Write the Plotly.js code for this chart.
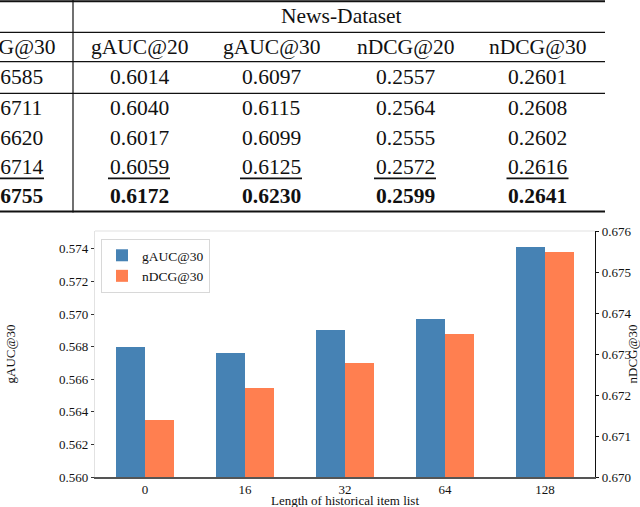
<!DOCTYPE html>
<html>
<head>
<meta charset="utf-8">
<script src="https://cdn.plot.ly/plotly-3.0.1.min.js"></script>
<style>html,body{margin:0;padding:0;background:#fff;}#chart{width:640px;height:507px;}</style>
</head>
<body>
<div id="chart"></div>
<script>
// ---- chart data ----
const categories = ['0', '16', '32', '64', '128'];
const gaucValues = [0.5680, 0.5676, 0.5690, 0.5697, 0.5741];
const ndcgValues = [0.67140, 0.67218, 0.67279, 0.67348, 0.67549];
const seriesNames = ['gAUC@30', 'nDCG@30'];
const xTitle = 'Length of historical item list';

// ---- table data (top part of the figure) ----
const tableGroupHeader = 'News-Dataset';
const tableColumns = ['nDCG@30', 'gAUC@20', 'gAUC@30', 'nDCG@20', 'nDCG@30'];
const tableRow1 = ['0.6585', '0.6014', '0.6097', '0.2557', '0.2601'];
const tableRow2 = ['0.6711', '0.6040', '0.6115', '0.2564', '0.2608'];
const tableRow3 = ['0.6620', '0.6017', '0.6099', '0.2555', '0.2602'];
const tableRow4 = ['0.6714', '0.6059', '0.6125', '0.2572', '0.2616'];
const tableRow5 = ['0.6755', '0.6172', '0.6230', '0.2599', '0.2641'];
const tableRows = [tableRow1, tableRow2, tableRow3, tableRow4, tableRow5];
const underlinedRow = 3;
const boldRow = 4;

// ---- layout geometry (pixels) ----
const PL = 95, PR = 595, PT = 231, PB = 477;
const fx = x => (x - PL) / (PR - PL);
const fy = y => (PB - y) / (PB - PT);
const serif = 'Liberation Serif, Times New Roman, serif';

const colX = [13, 139, 271, 405, 537.5];
const headerColX = [6, 139, 271, 405, 537.5];
const headerY = 46.5;
const rowY = [77, 107.5, 137.5, 167, 195.5];
const tblFont = {family: serif, size: 21.5, color: '#111'};

const annotations = [];
const shapes = [];

annotations.push({xref: 'paper', yref: 'paper', x: fx(341), y: fy(15.5), text: tableGroupHeader,
  showarrow: false, xanchor: 'center', yanchor: 'middle', font: tblFont});
tableColumns.forEach((c, i) => annotations.push({xref: 'paper', yref: 'paper', x: fx(headerColX[i]), y: fy(headerY),
  text: c, showarrow: false, xanchor: 'center', yanchor: 'middle', font: tblFont}));
tableRows.forEach((row, r) => row.forEach((v, i) => {
  annotations.push({xref: 'paper', yref: 'paper', x: fx(colX[i]), y: fy(rowY[r]),
    text: r === boldRow ? '<b>' + v + '</b>' : v, showarrow: false, xanchor: 'center', yanchor: 'middle', font: tblFont});
  if (r === underlinedRow) {
    shapes.push({type: 'line', xref: 'paper', yref: 'paper', x0: fx(colX[i] - 31), x1: fx(colX[i] + 31),
      y0: fy(178.3), y1: fy(178.3), line: {color: '#111', width: 1.8}});
  }
}));

function hline(y, x0, x1, w) {
  shapes.push({type: 'line', xref: 'paper', yref: 'paper', x0: fx(x0), x1: fx(x1), y0: fy(y), y1: fy(y),
    line: {color: '#111', width: w}});
}
hline(1.2, -5, 605, 2);
hline(32.3, -5, 605, 1.2);
hline(61.7, -5, 605, 1.2);
hline(93.3, -5, 605, 1.2);
hline(211.5, -5, 605, 2);
shapes.push({type: 'line', xref: 'paper', yref: 'paper', x0: fx(73), x1: fx(73), y0: fy(0), y1: fy(212.5),
  line: {color: '#111', width: 1.2}});
// top spine of the chart
shapes.push({type: 'line', xref: 'paper', yref: 'paper', x0: 0, x1: 1, y0: 1, y1: 1,
  line: {color: '#e2e2e2', width: 1.2}});

const tickFont = {family: serif, size: 13, color: '#111'};

// x-axis title placed just below the tick labels
annotations.push({xref: 'paper', yref: 'paper', x: 0.5, y: fy(500), text: xTitle, showarrow: false,
  xanchor: 'center', yanchor: 'middle', font: tickFont});

const traces = [
  {type: 'bar', name: seriesNames[0], x: categories, y: gaucValues, yaxis: 'y',
   width: 0.29, offset: -0.29, marker: {color: '#4682B4', line: {width: 0}}},
  {type: 'bar', name: seriesNames[1], x: categories, y: ndcgValues, yaxis: 'y2',
   width: 0.29, offset: 0, marker: {color: '#FF7F50', line: {width: 0}}}
];

const layout = {
  width: 640, height: 507,
  margin: {l: PL, r: 640 - PR, t: PT, b: 507 - PB, autoexpand: false},
  paper_bgcolor: '#fff', plot_bgcolor: '#fff',
  showlegend: true,
  legend: {x: fx(101), y: fy(239), xanchor: 'left', yanchor: 'top', bgcolor: '#fff',
    bordercolor: '#d8d8d8', borderwidth: 1, font: {family: serif, size: 13.5, color: '#111'},
    tracegroupgap: 0, traceorder: 'normal'},
  xaxis: {type: 'category', range: [-0.5, 4.5], automargin: false, showline: true, linecolor: '#555', linewidth: 1.6,
    ticks: '', showgrid: false, zeroline: false, tickfont: tickFont, fixedrange: true},
  yaxis: {range: [0.560, 0.5751], automargin: false, tick0: 0.560, dtick: 0.002, tickformat: '.3f', ticks: 'outside', ticklen: 3,
    tickcolor: '#333', showline: true, linecolor: '#e2e2e2', linewidth: 1.2, showgrid: false, zeroline: false,
    tickfont: tickFont, title: {text: seriesNames[0], font: tickFont, standoff: 40}},
  yaxis2: {overlaying: 'y', side: 'right', automargin: false, range: [0.670, 0.676], tick0: 0.670, dtick: 0.001, tickformat: '.3f',
    ticks: 'outside', ticklen: 3, tickcolor: '#111', showline: true, linecolor: '#111', linewidth: 1.2,
    showgrid: false, zeroline: false, tickfont: tickFont, title: {text: seriesNames[1], font: tickFont, standoff: 2}},
  annotations: annotations,
  shapes: shapes,
  bargap: 0
};

Plotly.newPlot('chart', traces, layout, {staticPlot: true, displayModeBar: false});
</script>
</body>
</html>
